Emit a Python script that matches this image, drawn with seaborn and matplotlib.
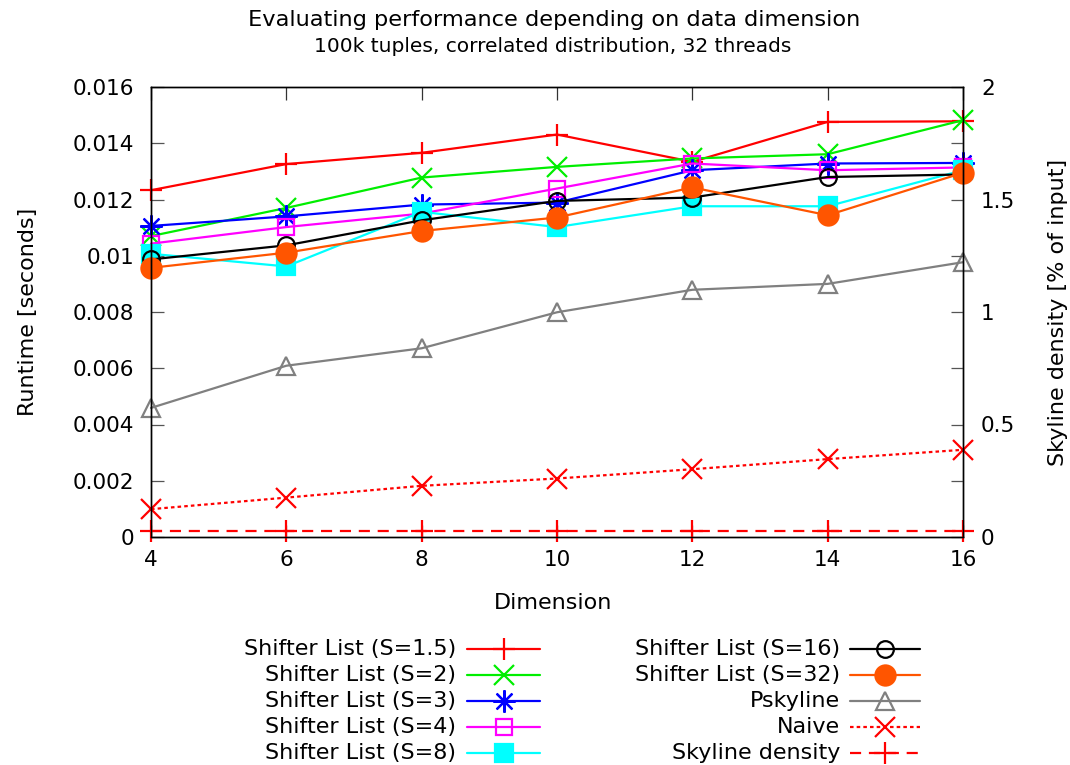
import numpy as np
import pandas as pd
import matplotlib
matplotlib.use("Agg")
import matplotlib.pyplot as plt
from matplotlib.lines import Line2D
from matplotlib.ticker import FixedLocator
import seaborn as sns

# ---- data -------------------------------------------------------------
dimensions = [4, 6, 8, 10, 12, 14, 16]

shifter_s1_5 = [0.01233, 0.01326, 0.01366, 0.01431, 0.01334, 0.01476, 0.01478]
shifter_s2   = [0.01070, 0.01170, 0.01278, 0.01316, 0.01346, 0.01361, 0.01482]
shifter_s3   = [0.01106, 0.01140, 0.01182, 0.01189, 0.01304, 0.01328, 0.01330]
shifter_s4   = [0.01043, 0.01102, 0.01150, 0.01239, 0.01328, 0.01304, 0.01314]
shifter_s8   = [0.01007, 0.00962, 0.01156, 0.01102, 0.01176, 0.01176, 0.01304]
shifter_s16  = [0.00987, 0.01037, 0.01126, 0.01195, 0.01207, 0.01280, 0.01289]
shifter_s32  = [0.00957, 0.01011, 0.01088, 0.01136, 0.01243, 0.01144, 0.01295]
pskyline     = [0.00459, 0.00609, 0.00671, 0.00799, 0.00879, 0.00900, 0.00977]
naive        = [0.00099, 0.00140, 0.00182, 0.00208, 0.00241, 0.00277, 0.00310]
skyline_density = [0.025, 0.025, 0.025, 0.025, 0.025, 0.025, 0.025]   # % of input

runtime_series = [
    ("Shifter List (S=1.5)", shifter_s1_5),
    ("Shifter List (S=2)", shifter_s2),
    ("Shifter List (S=3)", shifter_s3),
    ("Shifter List (S=4)", shifter_s4),
    ("Shifter List (S=8)", shifter_s8),
    ("Shifter List (S=16)", shifter_s16),
    ("Shifter List (S=32)", shifter_s32),
    ("Pskyline", pskyline),
    ("Naive", naive),
]

left_ticks = [0, 0.002, 0.004, 0.006, 0.008, 0.01, 0.012, 0.014, 0.016]
left_tick_labels = ["0", "0.002", "0.004", "0.006", "0.008", "0.01", "0.012", "0.014", "0.016"]
right_ticks = [0, 0.5, 1, 1.5, 2]
right_tick_labels = ["0", "0.5", "1", "1.5", "2"]

# ---- styles -----------------------------------------------------------
ASTERISK = (8, 2, 0)
styles = {
    "Shifter List (S=1.5)": dict(color="#ff0000", marker="+", ms=16, mfc="#ff0000", ls="-"),
    "Shifter List (S=2)":   dict(color="#00ee00", marker="x", ms=15, mfc="#00ee00", ls="-"),
    "Shifter List (S=3)":   dict(color="#0000ff", marker=ASTERISK, ms=16, mfc="#0000ff", ls="-"),
    "Shifter List (S=4)":   dict(color="#ff00ff", marker="s", ms=12, mfc="none", ls="-"),
    "Shifter List (S=8)":   dict(color="#00ffff", marker="s", ms=13, mfc="#00ffff", ls="-"),
    "Shifter List (S=16)":  dict(color="#000000", marker="o", ms=12, mfc="none", ls="-"),
    "Shifter List (S=32)":  dict(color="#ff5500", marker="o", ms=14.5, mfc="#ff5500", ls="-"),
    "Pskyline":             dict(color="#808080", marker="^", ms=13.5, mfc="none", ls="-"),
    "Naive":                dict(color="#ff0000", marker="x", ms=15, mfc="#ff0000", ls=(0, (1.6, 1.4))),
    "Skyline density":      dict(color="#ff0000", marker="+", ms=16, mfc="#ff0000", ls=(0, (5, 3.5))),
}

sns.set_style("white")
plt.rcParams["font.family"] = ["DejaVu Sans"]
plt.rcParams["text.color"] = "black"
plt.rcParams["axes.labelcolor"] = "black"
plt.rcParams["xtick.color"] = "black"
plt.rcParams["ytick.color"] = "black"
FS = 15.5

fig = plt.figure(figsize=(10.70, 7.65), dpi=100)
ax = fig.add_axes([151 / 1070, 1 - 537 / 765, 812 / 1070, 450 / 765])
ax2 = ax.twinx()

for name, values in runtime_series:
    st = styles[name]
    sns.lineplot(x=dimensions, y=values, ax=ax, color=st["color"], linestyle=st["ls"],
                 marker=st["marker"], markersize=st["ms"], markerfacecolor=st["mfc"],
                 markeredgecolor=st["color"], markeredgewidth=1.6, linewidth=1.6,
                 clip_on=False, legend=False)

st = styles["Skyline density"]
sns.lineplot(x=dimensions, y=skyline_density, ax=ax2, color=st["color"], linestyle=st["ls"],
             marker=st["marker"], markersize=st["ms"], markerfacecolor=st["mfc"],
             markeredgecolor=st["color"], markeredgewidth=1.6, linewidth=1.6,
             clip_on=False, legend=False)

# ---- axes -------------------------------------------------------------
ax.set_xlim(4, 16)
ax.set_ylim(0, 0.016)
ax2.set_ylim(0, 2)
ax.set_xticks(dimensions)
ax.set_xticklabels([str(d) for d in dimensions])
ax.set_yticks(left_ticks)
ax.set_yticklabels(left_tick_labels)
ax2.set_yticks(right_ticks)
ax2.set_yticklabels(right_tick_labels)
ax2.yaxis.set_minor_locator(FixedLocator([0.25, 0.75, 1.25, 1.75]))
ax.set_xlabel("")
ax.set_ylabel("")
ax2.set_ylabel("")

ax.tick_params(axis="x", direction="in", length=9, width=0.9, color="#333333",
               labelcolor="black", top=True, bottom=True, labelsize=FS, pad=9)
ax.tick_params(axis="y", direction="in", length=9, width=0.9, color="#555555",
               labelcolor="black", left=True, right=False, labelsize=FS, pad=12)
ax2.tick_params(axis="y", which="both", direction="in", length=9, width=0.9,
                color="#555555", labelcolor="black", right=True, left=False,
                labelsize=FS, pad=13)

for a in (ax, ax2):
    for sp in a.spines.values():
        sp.set_visible(True)
        sp.set_color("black")
        sp.set_linewidth(1.0)
ax.grid(False)
ax2.grid(False)

# ---- titles and axis labels -------------------------------------------
fig.text(554 / 1070, 1 - 20 / 765, "Evaluating performance depending on data dimension",
         ha="center", va="center", fontsize=16.2)
fig.text(553 / 1070, 1 - 46 / 765, "100k tuples, correlated distribution, 32 threads",
         ha="center", va="center", fontsize=14.5)
fig.text(553 / 1070, 1 - 603 / 765, "Dimension", ha="center", va="center", fontsize=16)
fig.text(28 / 1070, 1 - 312 / 765, "Runtime [seconds]", ha="center", va="center",
         rotation=90, fontsize=16)
fig.text(1058 / 1070, 1 - 312 / 765, "Skyline density [% of input]", ha="center",
         va="center", rotation=90, fontsize=16)

# ---- legend: label on the left, key sample on the right -------------------
legend_rows = [649, 675, 701, 727, 753]
columns = [
    (["Shifter List (S=1.5)", "Shifter List (S=2)", "Shifter List (S=3)",
      "Shifter List (S=4)", "Shifter List (S=8)"], 456, 467, 540),
    (["Shifter List (S=16)", "Shifter List (S=32)", "Pskyline", "Naive",
      "Skyline density"], 840, 850, 920),
]
for names, text_right, x0, x1 in columns:
    for name, yrow in zip(names, legend_rows):
        st = styles[name]
        yf = 1 - yrow / 765
        fig.text(text_right / 1070, yf, name, ha="right", va="center", fontsize=16)
        fig.add_artist(Line2D([x0 / 1070, x1 / 1070], [yf, yf], transform=fig.transFigure,
                              color=st["color"], linestyle=st["ls"], linewidth=1.6))
        fig.add_artist(Line2D([(x0 + x1) / 2 / 1070], [yf], transform=fig.transFigure,
                              linestyle="none", marker=st["marker"], markersize=st["ms"],
                              markerfacecolor=st["mfc"], markeredgecolor=st["color"],
                              markeredgewidth=1.6))

fig.savefig("out.png", dpi=100)
